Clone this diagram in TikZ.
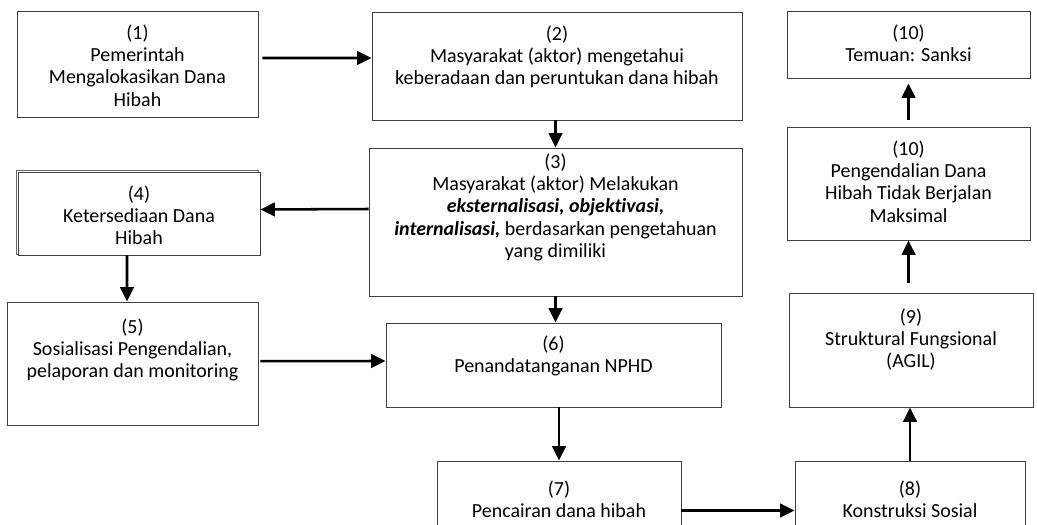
\documentclass[tikz,border=0pt]{standalone}
\usepackage{fontspec}
\setmainfont[Ligatures=NoCommon]{Carlito}
\usetikzlibrary{arrows.meta}

\begin{document}
\begin{tikzpicture}[x=0.025cm, y=-0.025cm,
    font=\fontsize{14.2}{15.8}\selectfont, >={Triangle[length=0.36cm, width=0.34cm]},
    kotak/.style={rectangle, draw=black!75, line width=0.6pt, fill=white, inner sep=0pt},
    teks/.style={anchor=north, align=center, inner sep=0pt},
    panah/.style={->, line width=1.8pt, draw=black}]

    \clip (0,0) rectangle (1037,525);

    % kotak
    \node (b1)  [kotak, minimum width=6.025cm, minimum height=2.65cm,
                 label={[teks, yshift=-0.35cm]north:{(1)\\ Pemerintah\\ Mengalokasikan Dana\\ Hibah}}] at (137.5,64) {};
    \node (b2)  [kotak, minimum width=9.25cm, minimum height=2.7cm,
                 label={[teks, yshift=-0.35cm]north:{(2)\\ Masyarakat (aktor) mengetahui\\ keberadaan dan peruntukan dana hibah}}] at (557,66) {};
    \node (b3)  [kotak, minimum width=9.325cm, minimum height=3.7cm,
                 label={[teks, yshift=-0.15cm]north:{(3)\\ Masyarakat (aktor) Melakukan\\ \textbf{\textit{eksternalisasi, objektivasi,}}\\ \textbf{\textit{internalisasi,}} berdasarkan pengetahuan\\ yang dimiliki}}] at (555.5,222) {};
    \node (b4s) [kotak, draw=black!60, line width=0.5pt, minimum width=6.05cm, minimum height=2.1cm] at (137.5,212.5) {};
    \node (b4)  [kotak, minimum width=6.05cm, minimum height=2.075cm,
                 label={[teks, yshift=-0.35cm]north:{(4)\\ Ketersediaan Dana\\ Hibah}}] at (139,213.5) {};
    \node (b5)  [kotak, minimum width=6.275cm, minimum height=3.075cm,
                 label={[teks, yshift=-0.425cm]north:{(5)\\ Sosialisasi Pengendalian,\\ pelaporan dan monitoring}}] at (132.5,363.5) {};
    \node (b6)  [kotak, minimum width=8.375cm, minimum height=2.1cm,
                 label={[teks, yshift=-0.325cm]north:{(6)\\ Penandatanganan NPHD}}] at (553.5,365) {};
    \node (b7)  [kotak, minimum width=6.1cm, minimum height=2.475cm,
                 label={[teks, yshift=-0.5cm]north:{(7)\\ Pencairan dana hibah}}] at (559,510.5) {};
    \node (b8)  [kotak, minimum width=5.75cm, minimum height=2.475cm,
                 label={[teks, yshift=-0.5cm]north:{(8)\\ Konstruksi Sosial}}] at (910,510.5) {};
    \node (b9)  [kotak, minimum width=6.1cm, minimum height=2.85cm,
                 label={[teks, yshift=-0.4cm]north:{(9)\\ Struktural Fungsional\\ (AGIL)}}] at (911,350) {};
    \node (b10) [kotak, minimum width=6.075cm, minimum height=2.825cm,
                 label={[teks, yshift=-0.35cm]north:{(10)\\ Pengendalian Dana\\ Hibah Tidak Berjalan\\ Maksimal}}] at (908.5,183.5) {};
    \node (b11) [kotak, minimum width=6.075cm, minimum height=1.675cm,
                 label={[teks, yshift=-0.35cm]north:{(10)\\ Temuan: Sanksi}}] at (908.5,44.5) {};

    % panah
    \draw [panah] ([xshift=0.1cm, yshift=0.15cm]b1.east) -- ([yshift=0.2cm]b2.west);
    \draw [panah] (b3.north |- b2.south) -- (b3.north);
    \draw [panah] ([yshift=0.325cm]b3.west) -- ([yshift=0.1cm]b4.east);
    \draw [panah] ([xshift=-0.3cm]b4.south) -- ([xshift=-0.1375cm]b5.north);
    \draw [panah] ([xshift=0.05cm, yshift=0.06cm]b5.east) -- ([yshift=0.1cm]b6.west);
    \draw [panah] (b3.south) -- (b3.south |- b6.north);
    \draw [panah] (b7.north |- b6.south) -- (b7.north);
    \draw [panah] (b7.east) -- (b7.east -| b8.west);
    \draw [panah] (b8.north) -- (b8.north |- b9.south);
    \draw [panah] ([yshift=0.25cm]b10.south |- b9.north) -- (b10.south);
    \draw [panah] ([yshift=0.175cm]b10.north) -- ([yshift=-0.125cm]b11.south);
\end{tikzpicture}
\end{document}
